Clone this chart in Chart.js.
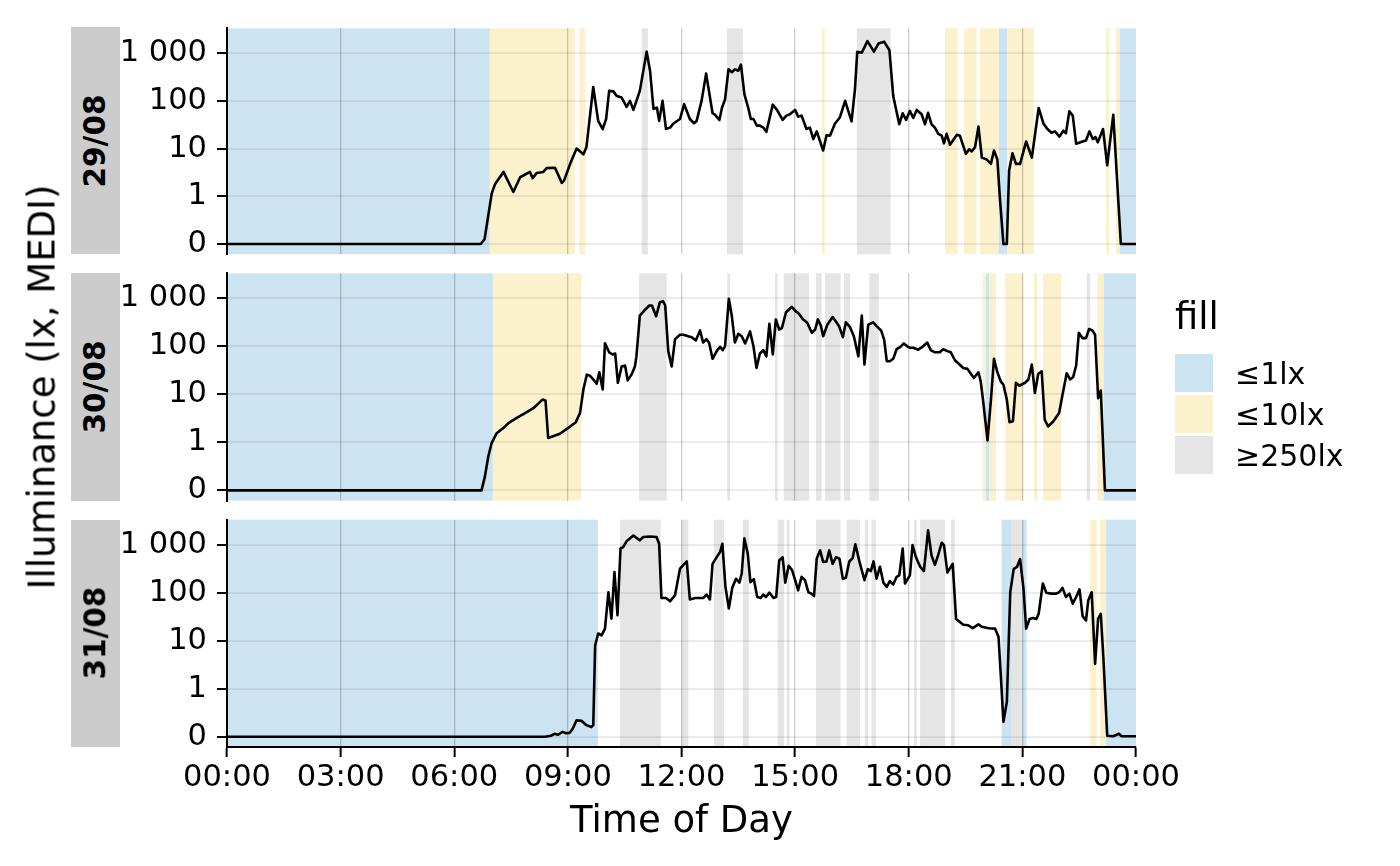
<!DOCTYPE html>
<html>
<head>
<meta charset="utf-8">
<script src="https://cdn.jsdelivr.net/npm/chart.js@4.4.1/dist/chart.umd.min.js"></script>
<style>
  html, body { margin: 0; padding: 0; background: #fff; }
  #wrap { position: relative; width: 1400px; height: 866px; overflow: hidden;
          font-family: "DejaVu Sans", sans-serif; color: #000; }
  #wrap canvas { position: absolute; left: 0; top: 0; }
  .strip { position: absolute; left: 71px; width: 49px; background: #cccccc; }
  .strip span { position: absolute; left: 50%; top: 50%; white-space: nowrap;
                transform: translate(-50%, -50%) rotate(-90deg);
                font-weight: bold; font-size: 29.5px; line-height: 1; }
  #ytitle { position: absolute; left: 42px; top: 387px; white-space: nowrap;
            transform: translate(-50%, -50%) rotate(-90deg); font-size: 37px; line-height: 1; }
  #legend-title { position: absolute; left: 1175px; top: 298px; font-size: 37px; line-height: 1; }
  .key { position: absolute; left: 1175px; width: 38px; height: 38px; }
  .key-label { position: absolute; left: 1235px; font-size: 30px; line-height: 1; white-space: nowrap; }
</style>
</head>
<body>
<div id="wrap">
  <canvas id="p0" width="1400" height="866"></canvas>
  <canvas id="p1" width="1400" height="866"></canvas>
  <canvas id="p2" width="1400" height="866"></canvas>
  <div id="ytitle">Illuminance (lx, MEDI)</div>
  <div id="legend-title">fill</div>
</div>
<script>
// Illuminance readings per day: [hour of day, lux]
const day29 = [
  [0,0],[6.70,0],[6.80,0.1],[6.99,1.15],[7.08,1.82],[7.30,3.24],[7.56,1.23],[7.74,2.51],[8.00,3.24],[8.07,2.4],
  [8.18,3.09],[8.35,3.24],[8.44,3.89],[8.66,3.98],[8.84,1.91],[8.90,2.14],[9.06,4.79],[9.23,10],[9.41,7.59],[9.49,10.7],
  [9.67,195],[9.80,38],[9.92,25.7],[10.01,41.7],[10.09,162],[10.20,158],[10.29,126],[10.42,117],[10.55,75],[10.64,100],
  [10.73,64.6],[10.90,162],[11.08,1072],[11.17,422],[11.26,67.6],[11.35,72.4],[11.41,38],[11.50,100],[11.59,25.7],[11.70,27.5],
  [11.78,33.1],[11.96,41.7],[12.07,85.1],[12.22,41.7],[12.33,33.9],[12.40,38],[12.53,100],[12.65,372],[12.82,55],[12.88,51.3],
  [13.00,39.8],[13.07,72.4],[13.15,107],[13.24,457],[13.33,398],[13.41,457],[13.50,427],[13.57,575],[13.66,138],[13.76,72.4],
  [13.83,41.7],[13.90,41.7],[13.99,30.2],[14.07,30.2],[14.16,27.5],[14.24,22.4],[14.41,83.2],[14.52,64.6],[14.67,39.8],[14.77,49],
  [14.86,52.5],[15.00,64.6],[15.08,46.8],[15.17,49],[15.30,25.7],[15.39,27.5],[15.48,15.8],[15.57,22.9],[15.74,9.12],[15.83,19.1],
  [15.92,18.6],[16.05,33.1],[16.18,44.7],[16.32,100],[16.49,37.2],[16.58,174],[16.64,1072],[16.76,1023],[16.91,1778],[17.08,1072],
  [17.20,1585],[17.35,1738],[17.49,1148],[17.59,126],[17.75,32.4],[17.84,55],[17.93,39.8],[18.03,61.7],[18.12,43.7],[18.21,64.6],
  [18.34,52.5],[18.43,32.4],[18.51,56.2],[18.60,32.4],[18.69,27.5],[18.78,20.4],[18.87,18.6],[18.93,12.9],[19.00,20.4],[19.09,12.0],
  [19.27,19.5],[19.35,18.6],[19.51,7.76],[19.60,9.77],[19.66,8.71],[19.75,10.7],[19.84,28.8],[19.93,6.46],[20.06,5.89],[20.17,4.79],
  [20.25,9.12],[20.34,5.89],[20.41,0.92],[20.50,0],[20.59,0],[20.65,3.47],[20.74,7.94],[20.83,4.79],[20.94,4.79],[21.10,14.1],
  [21.25,6.46],[21.43,70.8],[21.56,33.1],[21.66,25.7],[21.77,21.4],[21.86,22.9],[21.98,17.8],[22.08,23.7],[22.15,20.9],[22.24,60.3],
  [22.33,49],[22.42,12.6],[22.59,14.1],[22.68,14.8],[22.77,22.9],[22.86,15.8],[22.93,17.4],[22.99,13.5],[23.13,25.7],[23.24,4.47],
  [23.40,51.3],[23.60,0],[24,0]
];
const day30 = [
  [0,0],[6.72,0],[6.81,0.29],[6.90,0.71],[6.99,0.99],[7.12,1.55],[7.30,2.0],[7.43,2.51],[7.65,3.24],[7.87,4.07],
  [8.09,5.13],[8.33,7.76],[8.41,7.41],[8.48,1.23],[8.79,1.51],[9.01,2.0],[9.21,2.63],[9.32,4.07],[9.41,12.6],[9.50,25.7],
  [9.58,24.5],[9.67,20.4],[9.76,16.6],[9.83,28.8],[9.92,12.6],[9.98,115],[10.09,75],[10.18,67.6],[10.25,70.8],[10.32,17.4],
  [10.42,38],[10.51,39.8],[10.58,19.5],[10.68,25.7],[10.77,38],[10.81,61.7],[10.90,437],[11.00,537],[11.15,708],[11.22,708],
  [11.33,422],[11.43,832],[11.51,871],[11.57,708],[11.65,79.4],[11.74,38],[11.83,141],[11.96,174],[12.05,174],[12.18,162],
  [12.27,155],[12.38,133],[12.49,214],[12.57,120],[12.66,141],[12.73,117],[12.82,55],[12.93,79.4],[13.02,97.7],[13.09,83.2],
  [13.15,100],[13.25,977],[13.33,422],[13.41,120],[13.50,182],[13.59,162],[13.68,115],[13.81,204],[13.90,100],[13.98,35.5],
  [14.07,70.8],[14.16,83.2],[14.24,61.7],[14.32,295],[14.41,67.6],[14.49,363],[14.58,224],[14.65,240],[14.76,513],[14.91,661],
  [15.03,525],[15.09,490],[15.20,372],[15.32,309],[15.44,191],[15.53,224],[15.60,363],[15.68,269],[15.74,162],[15.85,282],
  [15.99,407],[16.09,316],[16.16,263],[16.26,155],[16.34,316],[16.45,251],[16.55,162],[16.67,61.7],[16.76,437],[16.83,41.7],
  [16.93,282],[17.06,316],[17.15,263],[17.27,214],[17.35,138],[17.42,49],[17.50,49],[17.59,55],[17.68,87.1],[17.78,97.7],
  [17.87,115],[17.96,100],[18.03,93.3],[18.12,93.3],[18.25,85.1],[18.38,100],[18.49,120],[18.58,83.2],[18.69,75],[18.82,75],
  [18.91,87.1],[19.02,79.4],[19.11,75],[19.22,51.3],[19.34,41.7],[19.44,35.5],[19.55,33.9],[19.63,27.5],[19.72,21.9],[19.84,28.8],
  [19.90,18.6],[19.97,6.61],[20.08,1.1],[20.17,7.76],[20.25,55],[20.34,28.8],[20.43,18.6],[20.50,15.8],[20.59,7.76],[20.66,2.63],
  [20.75,2.75],[20.83,17.4],[20.92,15.1],[21.07,17.4],[21.16,20.4],[21.25,41.7],[21.33,10.7],[21.42,26.9],[21.51,30.2],[21.59,2.95],
  [21.68,2.14],[21.82,2.75],[21.97,4.07],[22.06,9.77],[22.17,27.5],[22.26,20.4],[22.34,22.9],[22.42,39.8],[22.49,191],[22.59,148],
  [22.68,148],[22.76,229],[22.85,214],[22.92,174],[23.00,8.32],[23.07,12.0],[23.18,0],[24,0]
];
const day31 = [
  [0,0],[8.40,0],[8.55,0.02],[8.65,0.06],[8.74,0.04],[8.86,0.10],[8.95,0.07],[9.05,0.08],[9.13,0.17],[9.23,0.34],
  [9.36,0.33],[9.49,0.24],[9.62,0.20],[9.67,0.24],[9.72,7.94],[9.80,14.1],[9.89,12.9],[9.98,17.8],[10.07,102],[10.15,28.8],
  [10.23,269],[10.31,33.9],[10.39,832],[10.46,891],[10.55,1175],[10.73,1549],[10.90,1230],[10.99,1445],[11.17,1479],[11.34,1445],
  [11.41,1047],[11.47,77.6],[11.59,77.6],[11.70,66.1],[11.83,89.1],[11.96,316],[12.14,447],[12.22,72.4],[12.36,77.6],[12.50,77.6],
  [12.58,77.6],[12.66,91.2],[12.75,72.4],[12.82,398],[12.93,550],[13.02,708],[13.08,1047],[13.16,132],[13.25,46.8],[13.34,126],
  [13.44,195],[13.53,162],[13.59,251],[13.66,1349],[13.75,646],[13.82,166],[13.91,191],[14.00,81.3],[14.09,77.6],[14.16,91.2],
  [14.23,81.3],[14.32,100],[14.43,77.6],[14.50,81.3],[14.58,468],[14.67,550],[14.74,162],[14.83,363],[14.92,295],[15.00,182],
  [15.08,112],[15.17,214],[15.26,182],[15.35,102],[15.43,95.5],[15.50,85.1],[15.57,513],[15.66,759],[15.74,437],[15.83,447],
  [15.90,759],[15.99,398],[16.08,550],[16.17,513],[16.26,195],[16.34,204],[16.43,447],[16.52,525],[16.59,1023],[16.70,437],
  [16.83,182],[16.92,309],[17.00,282],[17.07,447],[17.15,195],[17.24,347],[17.33,162],[17.42,132],[17.50,174],[17.59,148],
  [17.68,214],[17.75,229],[17.84,832],[17.90,155],[18.03,229],[18.10,977],[18.19,550],[18.30,347],[18.40,282],[18.51,1995],
  [18.60,603],[18.69,380],[18.78,617],[18.87,1096],[18.93,977],[19.02,263],[19.16,398],[19.25,28.2],[19.35,24.5],[19.44,21.4],
  [19.57,20.9],[19.69,18.2],[19.84,21.9],[19.93,19.5],[20.11,18.2],[20.28,17.8],[20.37,12.0],[20.43,1.91],[20.50,0.31],[20.59,0.72],
  [20.68,102],[20.77,309],[20.86,347],[20.94,501],[21.03,120],[21.10,17.8],[21.19,28.2],[21.28,29.5],[21.37,28.2],[21.43,36.3],
  [21.54,155],[21.63,100],[21.76,95.5],[21.89,95.5],[21.97,102],[22.06,126],[22.15,81.3],[22.24,95.5],[22.33,58.9],[22.42,81.3],
  [22.51,117],[22.59,32.4],[22.68,26.3],[22.74,69.2],[22.83,102],[22.92,3.31],[23.00,28.8],[23.07,36.3],[23.14,4.27],[23.24,0.02],
  [23.40,0.01],[23.55,0.06],[23.62,0.01],[24,0.01]
];

// Light-state episodes per day: [start hour, end hour]
const dim29    = [[0,6.94],[20.37,20.60],[23.56,24]];
const mid29    = [[6.94,9.18],[9.30,9.46],[15.70,15.78],[18.96,19.29],[19.46,19.79],[19.88,20.37],[20.60,21.30],[23.21,23.29],[23.47,23.56]];
const bright29 = [[10.95,11.11],[13.20,13.62],[16.63,17.52]];

const dim30    = [[0,7.02],[20.04,20.12],[23.14,24]];
const mid30    = [[7.02,9.36],[19.95,20.04],[20.12,20.30],[20.54,21.01],[21.31,21.39],[21.54,22.03],[22.98,23.14]];
const bright30 = [[10.88,11.61],[13.21,13.28],[14.47,14.54],[14.70,15.37],[15.55,15.70],[15.79,16.20],[16.29,16.45],[16.96,17.21],[22.70,22.79]];

const dim31    = [[0,9.79],[20.45,20.70],[20.98,21.11],[23.21,24]];
const mid31    = [[22.79,22.96],[23.05,23.21]];
const bright31 = [[10.38,11.45],[12.00,12.18],[12.86,13.12],[13.62,13.78],[14.54,14.71],[14.78,14.85],[15.55,16.20],[16.36,16.71],[16.84,16.93],[17.02,17.13],[18.14,18.21],[18.30,18.96],[19.11,19.22],[20.70,20.98]];

const dayLabels   = ['29/08', '30/08', '31/08'];
const stateLabels = ['≤1lx', '≤10lx', '≥250lx'];
const xBreaks     = [0, 3, 6, 9, 12, 15, 18, 21, 24];
const xTickLabels = ['00:00', '03:00', '06:00', '09:00', '12:00', '15:00', '18:00', '21:00', '00:00'];
const yBreaks     = [0, 1, 10, 100, 1000];
const yTickLabels = ['0', '1', '10', '100', '1 000'];

const stateColors = ['#cce3f1', '#fbf1cc', '#e5e5e5'];
const FONT = "'DejaVu Sans', sans-serif";
Chart.defaults.font.family = FONT;

// symmetric log: linear below 1 lx, log10 above
function symlog(v) {
  const a = Math.abs(v);
  return a <= 1 ? v : Math.sign(v) * (1 + Math.log10(a));
}

// shaded state episodes behind the grid and the trace
const stateBands = {
  id: 'stateBands',
  beforeDraw(chart) {
    const cfg = chart.options.plugins.stateBands;
    if (!cfg) return;
    const { ctx, chartArea: a, scales: { x } } = chart;
    ctx.save();
    cfg.bands.forEach((intervals, k) => {
      ctx.fillStyle = stateColors[k];
      intervals.forEach(([s, e]) => {
        const x0 = x.getPixelForValue(s), x1 = x.getPixelForValue(e);
        ctx.fillRect(x0, a.top, x1 - x0, a.bottom - a.top);
      });
    });
    ctx.restore();
  }
};

const panels = [
  { id: 'p0', data: day29, bands: [dim29, mid29, bright29], top: 27.0,   bottom: 254.3 },
  { id: 'p1', data: day30, bands: [dim30, mid30, bright30], top: 273.35, bottom: 500.65 },
  { id: 'p2', data: day31, bands: [dim31, mid31, bright31], top: 519.7,  bottom: 747.0 }
];

panels.forEach((p, i) => {
  const isBottom = i === panels.length - 1;
  new Chart(document.getElementById(p.id), {
    type: 'line',
    data: {
      datasets: [{
        data: p.data.map(([t, lux]) => ({ x: t, y: symlog(lux) })),
        borderColor: '#000',
        borderWidth: 2.6,
        borderJoinStyle: 'round',
        pointRadius: 0,
        tension: 0,
        fill: false
      }]
    },
    options: {
      responsive: false,
      animation: false,
      events: [],
      layout: { padding: { left: 0, right: 264, top: p.top, bottom: isBottom ? 0 : 866 - p.bottom } },
      plugins: {
        legend: { display: false },
        tooltip: { enabled: false },
        stateBands: { bands: p.bands }
      },
      scales: {
        x: {
          type: 'linear', min: 0, max: 24,
          afterBuildTicks: s => { s.ticks = xBreaks.map(v => ({ value: v })); },
          afterFit: s => { s.height = isBottom ? 119 : 0; },
          ticks: {
            display: isBottom, autoSkip: false, maxRotation: 0,
            callback: (v, idx) => xTickLabels[idx],
            font: { family: FONT, size: 30.5 }, color: '#000', padding: 3
          },
          grid: {
            color: c => (c.tick && (c.tick.value === 0 || c.tick.value === 24)) ? 'rgba(0,0,0,0)' : 'rgba(0,0,0,0.2)',
            lineWidth: 1.3,
            drawTicks: isBottom, tickLength: 10, tickColor: '#000', tickWidth: 2
          },
          border: { display: isBottom, color: '#000', width: 2 },
          title: {
            display: isBottom, text: 'Time of Day', color: '#000',
            font: { family: FONT, size: 37 }, padding: { top: 0, bottom: 21 }
          }
        },
        y: {
          type: 'linear', min: -0.215, max: 4.52,
          afterBuildTicks: s => { s.ticks = yBreaks.map(v => ({ value: symlog(v) })); },
          afterFit: s => { s.width = 227; },
          ticks: {
            callback: (v, idx) => yTickLabels[idx],
            font: { family: FONT, size: 30.5 }, color: '#000', padding: 10
          },
          grid: { color: 'rgba(0,0,0,0.075)', lineWidth: 2, tickLength: 10, tickColor: '#000', tickWidth: 2 },
          border: { display: true, color: '#000', width: 2 }
        }
      }
    },
    plugins: [stateBands]
  });

  // facet strip
  const strip = document.createElement('div');
  strip.className = 'strip';
  strip.style.top = p.top + 'px';
  strip.style.height = (p.bottom - p.top) + 'px';
  const lab = document.createElement('span');
  lab.textContent = dayLabels[i];
  strip.appendChild(lab);
  document.getElementById('wrap').appendChild(strip);
});

// legend keys
const keyTops = [353.5, 394.5, 435.5];
stateLabels.forEach((txt, k) => {
  const wrap = document.getElementById('wrap');
  const key = document.createElement('div');
  key.className = 'key';
  key.style.top = keyTops[k] + 'px';
  key.style.background = stateColors[k];
  wrap.appendChild(key);
  const lab = document.createElement('div');
  lab.className = 'key-label';
  lab.style.top = (keyTops[k] + 5.5) + 'px';
  lab.textContent = txt;
  wrap.appendChild(lab);
});
</script>
</body>
</html>
